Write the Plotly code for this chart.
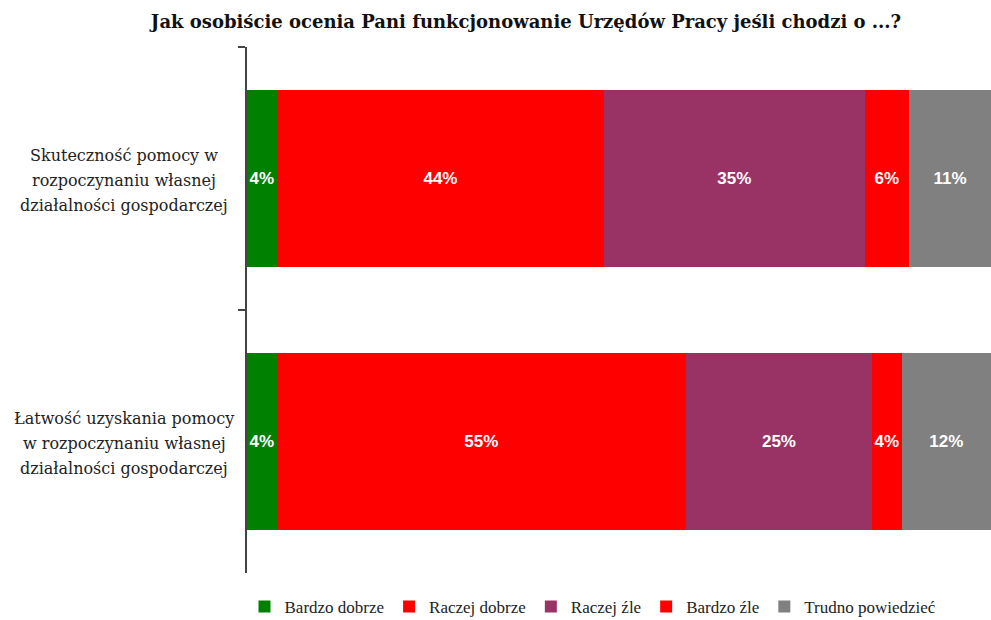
import plotly.graph_objects as go

# Survey items (top to bottom) and the answer scale
items = [
    "Skuteczność pomocy w rozpoczynaniu własnej działalności gospodarczej",
    "Łatwość uzyskania pomocy w rozpoczynaniu własnej działalności gospodarczej",
]
item_lines = [
    ["Skuteczność pomocy w", "rozpoczynaniu własnej", "działalności gospodarczej"],
    ["Łatwość uzyskania pomocy", "w rozpoczynaniu własnej", "działalności gospodarczej"],
]
answers = ["Bardzo dobrze", "Raczej dobrze", "Raczej źle", "Bardzo źle", "Trudno powiedzieć"]

# Percentages per answer, one value per item
bardzo_dobrze = [4, 4]
raczej_dobrze = [44, 55]
raczej_zle = [35, 25]
bardzo_zle = [6, 4]
trudno = [11, 12]

colors = ["#008000", "#FF0000", "#993366", "#FF0000", "#808080"]
series = [bardzo_dobrze, raczej_dobrze, raczej_zle, bardzo_zle, trudno]

fig = go.Figure()
for name, vals, col in zip(answers, series, colors):
    fig.add_trace(go.Bar(
        name=name,
        y=items,
        x=vals,
        orientation="h",
        marker=dict(color=col, line=dict(width=0)),
        text=[f"{v}%" for v in vals],
        textposition="inside",
        insidetextanchor="middle",
        textangle=0,
        constraintext="none",
        textfont=dict(family="Liberation Sans, Arial", size=17, color="white", weight="bold"),
        hoverinfo="skip",
    ))

# Category labels: centred multi-line text left of the axis
annotations = []
for cat, lines in zip(items, item_lines):
    for i, line in enumerate(lines):
        annotations.append(dict(
            x=-0.1653, xref="paper", y=cat, yref="y",
            text=line, showarrow=False, xanchor="center", yanchor="middle",
            yshift=(1 - i) * 25 - 2,
            font=dict(family="DejaVu Serif", size=16, color="#222222"),
        ))

fig.update_layout(
    barmode="stack",
    bargap=0.327,
    uniformtext=dict(minsize=17, mode="show"),
    width=991, height=620,
    margin=dict(l=247, r=0, t=47, b=47, autoexpand=False),
    paper_bgcolor="white", plot_bgcolor="white",
    title=dict(
        text="<b>Jak osobiście ocenia Pani funkcjonowanie Urzędów Pracy jeśli chodzi o ...?</b>",
        x=526 / 991, xanchor="center", y=1 - 22 / 620, yanchor="middle",
        font=dict(family="DejaVu Serif", size=18, color="#111111"),
    ),
    xaxis=dict(range=[0, 100], visible=False, fixedrange=True),
    yaxis=dict(
        type="category", categoryorder="array", categoryarray=items,
        range=[1.5, -0.5],
        showticklabels=False,
        showline=True, linecolor="#444444", linewidth=1.5,
        ticks="outside", tickson="boundaries", ticklen=7, tickcolor="#444444", tickwidth=1.5,
        showgrid=False, zeroline=False,
    ),
    legend=dict(
        orientation="h", x=(593 - 247) / 744, xanchor="center",
        y=-(607 - 573) / 526, yanchor="middle",
        font=dict(family="Liberation Serif", size=17, color="#222222"),
        traceorder="normal",
    ),
    annotations=annotations,
    showlegend=True,
)

fig.write_html("out.html")
